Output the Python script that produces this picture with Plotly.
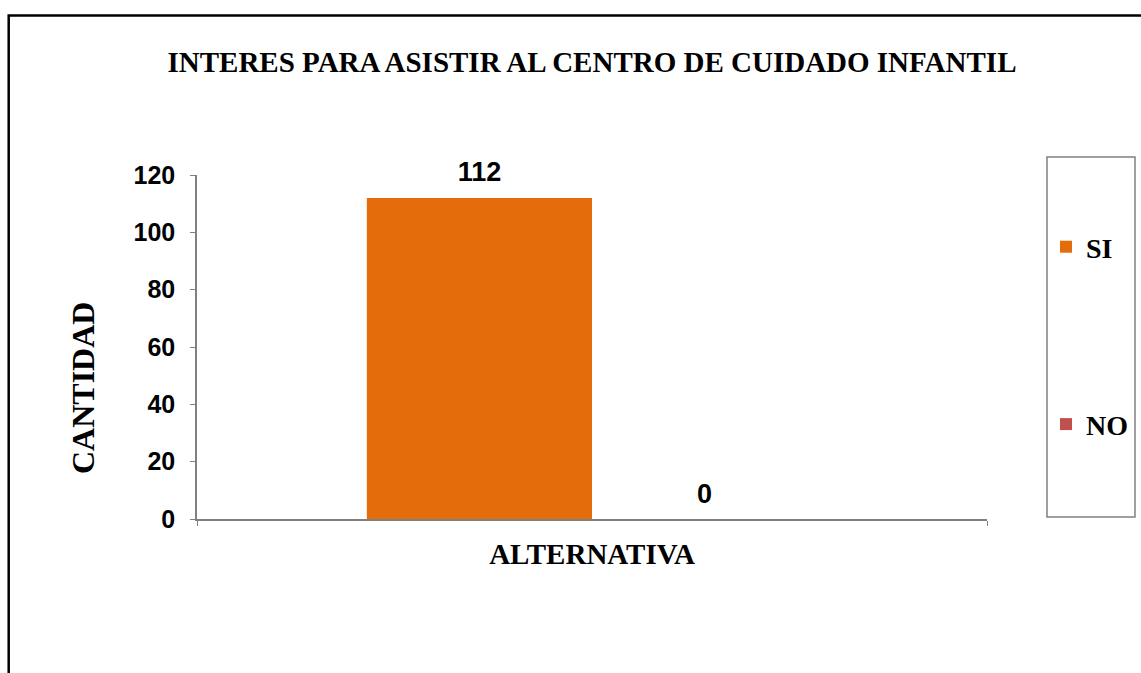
import plotly.graph_objects as go

categories = ["ALTERNATIVA"]
series_names = ["SI", "NO"]
series_values = [[112], [0]]
series_colors = ["#E46C0A", "#C0504D"]
y_ticks = [0, 20, 40, 60, 80, 100, 120]
y_title = "CANTIDAD"
chart_title = "INTERES PARA ASISTIR AL CENTRO DE CUIDADO INFANTIL"

W, H = 1141, 673
L, R, T, B = 197, 154, 175, 154
pw, ph = W - L - R, H - T - B

def px(x):
    return (x - L) / pw

def py(y):
    return (H - B - y) / ph

SERIF = "Liberation Serif, Times New Roman, serif"
SANS = "Liberation Sans, Arial, sans-serif"
GAP = 0.43

fig = go.Figure()
for name, vals, col in zip(series_names, series_values, series_colors):
    fig.add_trace(go.Bar(
        x=categories, y=vals, name=name, offsetgroup=name,
        marker=dict(color=col, line=dict(width=0)),
        legendgroup=name,
    ))
for name, vals in zip(series_names, series_values):
    fig.add_trace(go.Scatter(
        x=categories, y=vals, mode="markers+text", offsetgroup=name,
        text=[str(v) for v in vals], textposition="top center",
        textfont=dict(family=SANS, size=27, color="black", weight="bold"),
        marker=dict(size=14, opacity=0), showlegend=False, hoverinfo="skip",
        cliponaxis=False,
    ))

fig.update_layout(
    width=W, height=H,
    margin=dict(l=L, r=R, t=T, b=B, autoexpand=False),
    paper_bgcolor="white", plot_bgcolor="white",
    barmode="group", bargap=GAP, bargroupgap=0,
    scattermode="group", scattergap=GAP,
    title=dict(text=chart_title, xref="container", x=592 / W, xanchor="center",
               y=1 - 62 / H, yanchor="middle",
               font=dict(family=SERIF, size=29, color="black", weight="bold")),
    showlegend=True,
    legend=dict(x=px(1046), xanchor="left", y=py(222), yanchor="top",
                traceorder="grouped", tracegroupgap=138,
                font=dict(family=SERIF, size=28, color="black", weight="bold"),
                bgcolor="rgba(0,0,0,0)", borderwidth=0, itemwidth=30),
    xaxis=dict(showline=True, linecolor="#808080", linewidth=1.5,
               ticks="outside", tickson="boundaries", ticklen=5, tickcolor="#808080",
               tickfont=dict(family=SERIF, size=29, color="black", weight="bold"),
               ticklabelstandoff=8,
               showgrid=False, zeroline=False),
    yaxis=dict(range=[0, 120], tickvals=y_ticks, showline=True, linecolor="#808080", linewidth=1.5,
               ticks="outside", ticklen=5, tickcolor="#808080",
               tickfont=dict(family=SANS, size=25, color="black", weight="bold"),
               ticklabelstandoff=10,
               showgrid=False, zeroline=False),
)

# y-axis title (placed lower than centre, as in the original)
fig.add_annotation(text=y_title, textangle=-90, xref="paper", yref="paper",
                   x=px(83), y=py(388), xanchor="center", yanchor="middle",
                   showarrow=False,
                   font=dict(family=SERIF, size=32, color="black", weight="bold"))

# legend box
fig.add_shape(type="rect", xref="paper", yref="paper",
              x0=px(1047), x1=px(1135), y0=py(517), y1=py(157),
              line=dict(color="#808080", width=1.5), fillcolor="rgba(0,0,0,0)", layer="below")
# outer frame (extends past the right and bottom edges)
fig.add_shape(type="rect", xref="paper", yref="paper",
              x0=px(8.7), x1=px(1200), y0=py(720), y1=py(15.5),
              line=dict(color="black", width=2.5), fillcolor="rgba(0,0,0,0)", layer="below")

fig.write_html("out.html", config={"displayModeBar": False},
               post_script="document.body.style.margin='0';document.body.style.overflow='hidden';")
